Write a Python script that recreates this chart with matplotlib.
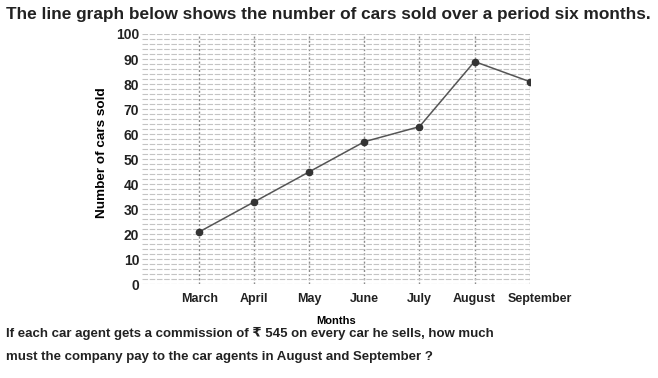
#!/usr/bin/env python3
"""Line graph of cars sold per month, redrawn from a scanned worksheet."""

import matplotlib

matplotlib.use("Agg")
import matplotlib.pyplot as plt  # noqa: E402
import matplotlib.transforms as mtransforms  # noqa: E402
from matplotlib.ticker import MultipleLocator  # noqa: E402

months = ["March", "April", "May", "June", "July", "August", "September"]
cars_sold = [21, 33, 45, 57, 63, 89, 81]
y_ticks = list(range(0, 101, 10))

TITLE = "The line graph below shows the number of cars sold over a period six months."
QUESTION = (
    "If each car agent gets a commission of \u20b9 545 on every car he sells, how much\n"
    "must the company pay to the car agents in August and September ?"
)


def main() -> None:
    plt.rcParams["font.family"] = ["Liberation Sans", "DejaVu Sans"]
    fig = plt.figure(figsize=(6.58, 3.78), dpi=100)
    fig.patch.set_facecolor("white")
    ax = fig.add_axes([0.2158, 0.2474, 0.589, 0.6627])

    x = list(range(len(months)))
    ax.set_xlim(-1.04, 6.0)
    ax.set_ylim(0, 100)

    # dense light horizontal rules every 2 cars, dotted month verticals
    ax.yaxis.set_minor_locator(MultipleLocator(2))
    ax.grid(True, axis="y", which="both", color="#c4c4c4", lw=0.8, ls=(0, (5, 1.5)))
    ax.set_xticks(x)
    ax.grid(True, axis="x", which="major", color="#8a8a8a", lw=1.0, ls=(0, (1.5, 1.5)))

    ax.plot(x, cars_sold, color="#555555", lw=1.1, marker="o", ms=4.5,
            mfc="#333333", mec="#333333", zorder=3)

    for s in ax.spines.values():
        s.set_visible(False)
    ax.tick_params(axis="both", which="both", length=0)
    ax.set_yticks(y_ticks)
    ax.set_yticklabels([str(v) for v in y_ticks], fontsize=10, fontweight="bold", color="#222")
    ax.set_xticklabels(months, fontsize=9, fontweight="bold", color="#222")
    ax.tick_params(axis="y", pad=2)
    ax.tick_params(axis="x", pad=6)

    # September sits past the right edge in the scan
    sep = ax.get_xticklabels()[-1]
    sep.set_transform(sep.get_transform() + mtransforms.ScaledTranslation(10 / 100, 0, fig.dpi_scale_trans))

    ax.set_ylabel("Number of cars sold", fontsize=9.7, fontweight="bold")
    ax.yaxis.set_label_coords(-0.088, 0.527)
    ax.set_xlabel("Months", fontsize=8, fontweight="bold", labelpad=8)

    fig.text(0.009, 0.962, TITLE, fontsize=12.4, fontweight="bold", color="#222", va="center")
    fig.text(0.009, 0.088, QUESTION, fontsize=9.5, fontweight="bold", color="#222",
             va="center", linespacing=2.25)

    fig.savefig("out.png", dpi=100)
    plt.close(fig)


if __name__ == "__main__":
    main()
